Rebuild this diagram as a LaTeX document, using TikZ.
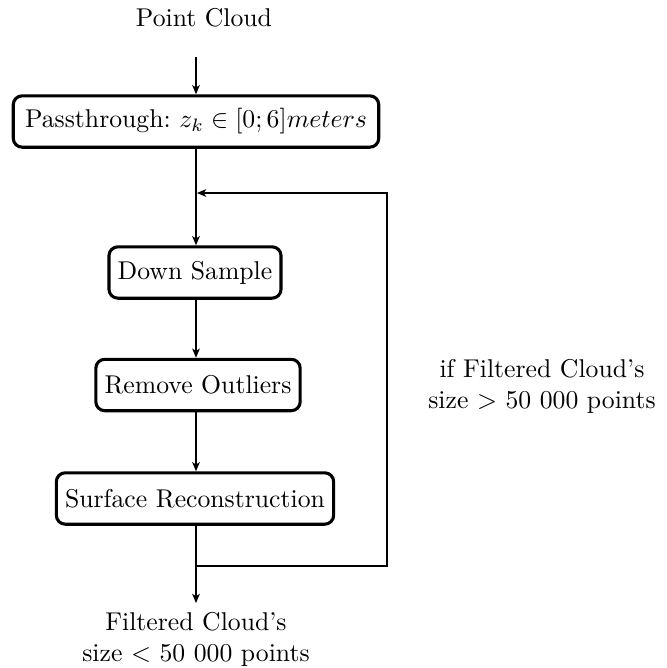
\documentclass[tikz,border=0pt]{standalone}
\usetikzlibrary{arrows.meta}
\begin{document}
\begin{tikzpicture}[x=0.389pt, y=-0.389pt,
    stepbox/.style={draw, very thick, rounded corners=3.5pt, minimum height=20pt, inner xsep=3.4pt},
    flow/.style={-{Stealth[length=3.6pt, width=3pt, inset=1pt]}, thin},
    lbl/.style={align=center}]
  \useasboundingbox (0,0) rectangle (667,668);

  % input and processing stages
  \node (pc) at (204,18) {Point Cloud};
  \coordinate (in) at (196,57);
  \node[stepbox, inner xsep=4.6pt] (pass) at (196,121.5) {Passthrough:\ $z_k \in [0;6] meters$};
  \node[stepbox] (down) at (195,272.5) {Down Sample};
  \node[stepbox] (rem)  at (198,385) {Remove Outliers};
  \node[stepbox] (surf) at (195,498.5) {Surface Reconstruction};
  \node[lbl, anchor=north] (res) at (196,603) {Filtered Cloud's\\size $<$ 50 000 points};
  \node[lbl] (cond) at (542,386) {if Filtered Cloud's\\size $>$ 50 000 points};

  % feedback loop corners
  \coordinate (l1) at (197,566);
  \coordinate (l2) at (387,566);
  \coordinate (l3) at (387,193);
  \coordinate (l4) at (197,193);

  % connectors
  \draw[flow] (in) -- (in |- pass.north);
  \draw[flow] (in |- pass.south) -- (in |- down.north);
  \draw[flow] (in |- down.south) -- (in |- rem.north);
  \draw[flow] (in |- rem.south) -- (in |- surf.north);
  \draw[flow] (in |- surf.south) -- (res);
  \draw[flow] (l1) -- (l2) -- (l3) -- (l4);
\end{tikzpicture}
\end{document}
